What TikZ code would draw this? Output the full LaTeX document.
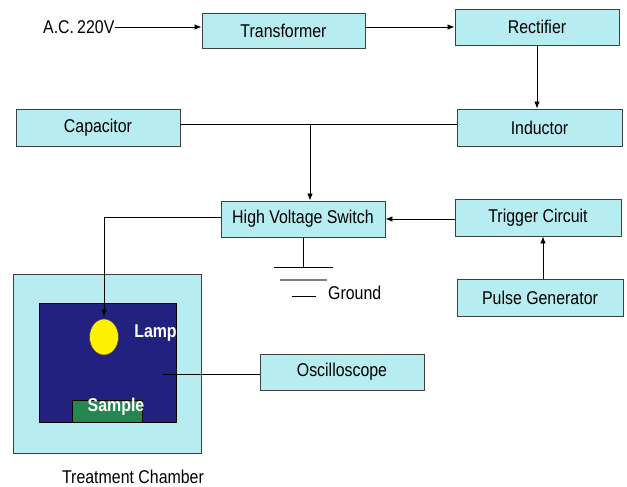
\documentclass[tikz,border=0pt]{standalone}
\usepackage{fontspec}
\setmainfont[FakeStretch=0.86]{Liberation Sans}
\usetikzlibrary{arrows.meta,shapes.geometric}
\definecolor{boxfill}{HTML}{B7ECF0}
\definecolor{boxline}{HTML}{404040}
\definecolor{chamberblue}{HTML}{22217F}
\definecolor{samplegreen}{HTML}{23874F}
\tikzset{
  blk/.style={draw=boxline, fill=boxfill, line width=0.9pt, inner sep=0pt,
    font=\fontsize{18.5}{22}\selectfont, text=black},
  wire/.style={draw=black, line width=0.8pt},
  arr/.style={wire, -{Latex[length=7pt,width=5.5pt]}},
  lbl/.style={font=\fontsize{18.5}{22}\selectfont, inner sep=0pt},
  wlbl/.style={font=\fontsize{18.5}{22}\selectfont\bfseries, text=white, inner sep=0pt},
}
\begin{document}
\begin{tikzpicture}[x=1pt,y=-1pt]
\useasboundingbox (0,0) rectangle (627,487);
% boxes
\node[blk, minimum width=163pt, minimum height=35pt] (trans) at (283.5,30.5) {Transformer};
\node[blk, minimum width=164pt, minimum height=36pt] (rect) at (537,27) {Rectifier};
\node[blk, minimum width=164pt, minimum height=37pt] (cap) at (98,127.5) {Capacitor};
\node[blk, minimum width=165pt, minimum height=37pt] (ind) at (539.5,127.5) {Inductor};
\node[blk, minimum width=164pt, minimum height=36pt] (hvs) at (303,219) {High Voltage Switch};
\node[blk, minimum width=166pt, minimum height=37pt] (trig) at (538,217.5) {Trigger Circuit};
\node[blk, minimum width=166pt, minimum height=37pt] (pulse) at (540,297.5) {Pulse Generator};
% input label
\node[lbl, anchor=west] (ac) at (43,27) {A.C.\,220V};
\coordinate (acend) at (115,27);
% treatment chamber
\node[draw=boxline, fill=boxfill, line width=0.8pt, minimum width=188pt, minimum height=179pt, inner sep=0pt] (outer) at (107,363.5) {};
\node[draw=black, fill=chamberblue, line width=0.6pt, minimum width=137pt, minimum height=119pt, inner sep=0pt] (inner) at (107.5,362.5) {};
\node[draw=black!70, fill=yellow, line width=0.6pt, ellipse, minimum width=29pt, minimum height=36pt, inner sep=0pt] (lamp) at (104,337) {};
\node[wlbl] (lamplbl) at (155.5,333) {Lamp};
\node[draw=black, fill=samplegreen, line width=0.5pt, minimum width=70pt, minimum height=22pt, inner sep=0pt] (sample) at (107,411) {};
\node[wlbl] (samplelbl) at (116,407) {Sample};
\node[lbl] (tclbl) at (133,477) {Treatment Chamber};
\node[blk, minimum width=164pt, minimum height=36pt] (osc) at (342,372) {Oscilloscope};
\coordinate (probe) at (163,374);
% ground
\coordinate (g0) at (303,267);
\coordinate (g1a) at (274,267); \coordinate (g1b) at (333,267);
\coordinate (g2a) at (280,280); \coordinate (g2b) at (327,280);
\coordinate (g3a) at (292,296); \coordinate (g3b) at (316,296);
\node[lbl, anchor=west] (gnd) at (328,293) {Ground};
% junctions
\coordinate (j) at (310,124.5);
\coordinate (corner) at (104,217);
% connectors
\draw[arr] (acend) -- (acend -| trans.west);
\draw[arr] (trans.east |- rect.west) -- (rect.west);
\draw[arr] (rect.south) -- (rect.south |- ind.north);
\draw[wire] (cap.east |- j) -- (ind.west |- j);
\draw[arr] (j) -- (j |- hvs.north);
\draw[arr] (trig.west |- hvs.east) -- (hvs.east);
\draw[arr] ([xshift=3pt]pulse.north) -- ([xshift=3pt]pulse.north |- trig.south);
\draw[arr] (hvs.west |- corner) -- (corner) -- ([yshift=2pt]lamp.north);
\draw[wire] (hvs.south -| g0) -- (g0);
\draw[wire] (g1a) -- (g1b);
\draw[draw=gray, line width=1.2pt] (g2a) -- (g2b);
\draw[wire] (g3a) -- (g3b);
\draw[wire] (probe) -- (probe -| osc.west);
\end{tikzpicture}
\end{document}
